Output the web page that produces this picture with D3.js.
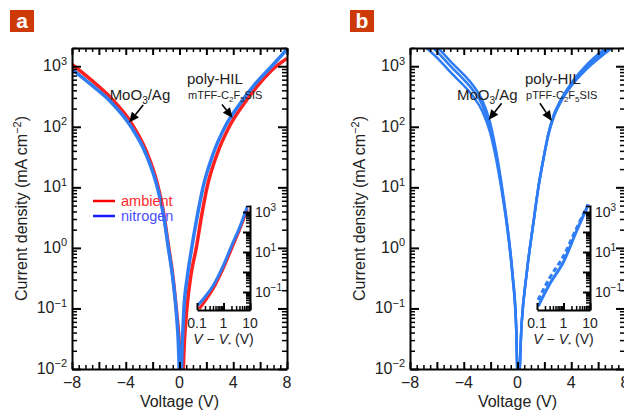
<!DOCTYPE html>
<html>
<head>
<meta charset="utf-8">
<script src="https://cdn.jsdelivr.net/npm/d3@7"></script>
<style>
  body { margin: 0; background: #fff; }
  svg { font-family: "Liberation Sans", Arial, Helvetica, sans-serif; }
</style>
</head>
<body>
<svg id="chart" width="624" height="413"></svg>
<script>
// ---- data ----
// panel a, main J-V curves (V, mA cm^-2)
const voltNitrogenA = [-8, -6.6, -5.1, -3.6, -2.5, -1.65, -1.2, -0.83, -0.5, -0.26, -0.1, 0.07, 0.2, 0.33, 0.6, 0.91, 1.3, 1.75, 2.5, 3.39, 4.5, 5.6, 6.86, 8];
const jNitrogenA = [891, 501, 257, 100, 35.5, 10, 3.55, 1.0, 0.316, 0.1, 0.0316, 0.004, 0.025, 0.1, 0.355, 1.0, 3.16, 10, 35.5, 100, 240, 500, 1000, 1900];
const voltAmbientA = [-8, -6.6, -5.1, -3.6, -2.5, -1.65, -1.2, -0.83, -0.5, -0.26, -0.05, 0.2, 0.35, 0.55, 0.85, 1.25, 1.62, 2.05, 2.8, 3.7, 4.8, 5.9, 7.2, 8];
const jAmbientA = [1070, 600, 300, 117, 41, 11.5, 4.0, 1.12, 0.35, 0.11, 0.035, 0.004, 0.025, 0.1, 0.355, 1.0, 3.16, 10, 35.5, 100, 240, 500, 1000, 1350];

// panel b, three overlapping sweeps
const voltB = [-8, -7, -5.9, -4.9, -4.0, -3.3, -2.6, -2.05, -1.6, -1.18, -0.8, -0.38, -0.11, 0.05, 0.31, 0.68, 1.18, 1.55, 1.95, 2.3, 2.7, 3.2, 4.0, 5.2, 6.5, 8];
const jB1 = [4470, 2820, 1660, 955, 603, 398, 224, 100, 35.5, 10, 2.6, 0.38, 0.058, 0.004, 0.058, 0.38, 2.6, 10, 31.6, 76, 151, 263, 501, 1000, 1780, 3160];
const jB2 = [5370, 3390, 2000, 1150, 725, 480, 270, 120, 41, 11.2, 2.8, 0.41, 0.06, 0.004, 0.058, 0.38, 2.6, 10, 31.6, 78, 158, 275, 525, 1080, 1950, 3550];
const jB3 = [3550, 2240, 1320, 760, 480, 316, 178, 82, 30, 8.9, 2.4, 0.35, 0.055, 0.004, 0.056, 0.37, 2.5, 9.6, 30.5, 73, 144, 250, 470, 920, 1620, 2820];

// insets: J vs V - V* (log-log)
const insetXNitrogenA = [0.11, 0.2, 0.4, 1, 2, 4, 7.8];
const insetJNitrogenA = [0.022, 0.056, 0.2, 2.2, 20, 160, 1780];
const insetXAmbientA = [0.12, 0.2, 0.4, 1, 2, 4, 8];
const insetJAmbientA = [0.014, 0.035, 0.14, 1.6, 14, 126, 1410];
const insetXSolidB = [0.11, 0.3, 1, 3, 8.7];
const insetJSolidB = [0.019, 0.25, 3.2, 100, 2400];
const insetXDashB = [0.11, 0.3, 1, 3, 8.5];
const insetJDashB = [0.04, 0.5, 6.3, 141, 2400];

// ticks
const yTickValues = [0.01, 0.1, 1, 10, 100, 1000];
const yTickExps = ["\u22122", "\u22121", "0", "1", "2", "3"];
const xTickValues = [-8, -4, 0, 4, 8];
const xTickLabels = ["\u22128", "\u22124", "0", "4", "8"];
const insetXTicks = [0.1, 1, 10];
const insetXTickLabels = ["0.1", "1", "10"];
const insetYTicks = [0.1, 10, 1000];
const insetYTickExps = ["\u22121", "1", "3"];

const legendLabels = ["ambient", "nitrogen"];
const legendLineColors = ["#ff0000", "#1a1aff"];
const legendTextColors = ["#ff2a2a", "#4d4dff"];

const red = "#ff2020";
const blue = "#2f7df5";

const svg = d3.select("#chart");

function styleAxis(sel, w) {
    sel.select(".domain").attr("stroke-width", 2);
    sel.selectAll(".tick line").attr("stroke-width", w);
}

function noDomain(sel, w) {
    sel.select(".domain").remove();
    sel.selectAll(".tick line").attr("stroke-width", w);
}

function powerLabel(g, x, y, exp, size, supSize, anchor) {
    const t = g.append("text")
        .attr("x", x)
        .attr("y", y)
        .attr("text-anchor", anchor)
        .style("font-size", size + "px")
        .style("fill", "#222");
    t.append("tspan").text("10");
    t.append("tspan").attr("dy", -size * 0.42).style("font-size", supSize + "px").text(exp);
}

function arrow(g, x1, y1, x2, y2) {
    const a = Math.atan2(y2 - y1, x2 - x1);
    const len = 10, hw = 4.5;
    const bx = x2 - len * Math.cos(a), by = y2 - len * Math.sin(a);
    g.append("line")
        .attr("x1", x1).attr("y1", y1).attr("x2", bx).attr("y2", by)
        .attr("stroke", "#000").attr("stroke-width", 1.6);
    g.append("path")
        .attr("d", `M${x2},${y2}L${bx + hw * Math.sin(a)},${by - hw * Math.cos(a)}L${bx - hw * Math.sin(a)},${by + hw * Math.cos(a)}Z`)
        .attr("fill", "#000");
}

function drawPanel(cfg) {
    const top = 48, bottom = 369, width = 215;
    const x = d3.scaleLinear().domain([-8, 8]).range([cfg.left, cfg.left + width]);
    const y = d3.scaleLog().domain([0.01, 2000]).range([bottom, top]);
    const g = svg.append("g");

    // panel letter
    g.append("rect").attr("x", cfg.badge).attr("y", 10).attr("width", 24).attr("height", 22).attr("fill", "#cc3a0a");
    g.append("text").attr("x", cfg.badge + 12).attr("y", 28).attr("text-anchor", "middle")
        .style("font-size", "21px").style("font-weight", "bold").style("fill", "#fff").text(cfg.letter);

    const clipId = "clip-" + cfg.letter;
    svg.append("clipPath").attr("id", clipId).append("rect")
        .attr("x", cfg.left).attr("y", top).attr("width", width).attr("height", bottom - top);

    const line = d3.line()
        .x(d => x(d[0]))
        .y(d => y(d[1]))
        .curve(d3.curveMonotoneX);

    const curves = g.append("g").attr("clip-path", `url(#${clipId})`);
    cfg.series.forEach(s => {
        curves.append("path")
            .datum(d3.zip(s.v, s.j))
            .attr("d", line)
            .attr("fill", "none")
            .attr("stroke", s.color)
            .attr("stroke-width", s.width)
            .attr("stroke-linejoin", "round");
    });

    // axes, ticks inward on all four sides
    const minorY = y.ticks().filter(v => !yTickValues.includes(v));
    const majorX = d3.range(-8, 8.1, 2);
    const minorX = d3.range(-8, 8.01, 0.5).filter(v => v % 2 !== 0);

    g.append("g").attr("transform", `translate(${cfg.left},0)`)
        .call(d3.axisLeft(y).tickValues(yTickValues).tickSize(-9).tickSizeOuter(0).tickFormat(""))
        .call(styleAxis, 2);
    g.append("g").attr("transform", `translate(${cfg.left},0)`)
        .call(d3.axisLeft(y).tickValues(minorY).tickSize(-5).tickFormat(""))
        .call(noDomain, 1.5);
    g.append("g").attr("transform", `translate(${cfg.left + width},0)`)
        .call(d3.axisRight(y).tickValues(yTickValues).tickSize(-9).tickSizeOuter(0).tickFormat(""))
        .call(styleAxis, 2);
    g.append("g").attr("transform", `translate(${cfg.left + width},0)`)
        .call(d3.axisRight(y).tickValues(minorY).tickSize(-5).tickFormat(""))
        .call(noDomain, 1.5);
    g.append("g").attr("transform", `translate(0,${bottom})`)
        .call(d3.axisBottom(x).tickValues(majorX).tickSize(-7).tickSizeOuter(0).tickFormat(""))
        .call(styleAxis, 2);
    g.append("g").attr("transform", `translate(0,${bottom})`)
        .call(d3.axisBottom(x).tickValues(minorX).tickSize(-4).tickFormat(""))
        .call(noDomain, 1.5);
    g.append("g").attr("transform", `translate(0,${top})`)
        .call(d3.axisTop(x).tickValues(majorX).tickSize(-7).tickSizeOuter(0).tickFormat(""))
        .call(styleAxis, 2);
    g.append("g").attr("transform", `translate(0,${top})`)
        .call(d3.axisTop(x).tickValues(minorX).tickSize(-4).tickFormat(""))
        .call(noDomain, 1.5);

    // tick labels
    yTickValues.forEach((v, i) => powerLabel(g, cfg.left - 5, y(v) + 5, yTickExps[i], 16, 11, "end"));
    xTickValues.forEach((v, i) => {
        g.append("text").attr("x", x(v)).attr("y", 388).attr("text-anchor", "middle")
            .style("font-size", "16px").style("fill", "#222").text(xTickLabels[i]);
    });

    // axis titles
    g.append("text").attr("x", x(0)).attr("y", 407).attr("text-anchor", "middle")
        .style("font-size", "16px").style("fill", "#222").text("Voltage (V)");
    const yt = g.append("text")
        .attr("transform", `translate(${cfg.left - 45},${(top + bottom) / 2}) rotate(-90)`)
        .attr("text-anchor", "middle")
        .style("font-size", "16px").style("fill", "#222");
    yt.append("tspan").text("Current density (mA cm");
    yt.append("tspan").attr("dy", -6).style("font-size", "11px").text("\u22122");
    yt.append("tspan").attr("dy", 6).text(")");

    // annotations
    const an = cfg.notes;
    const m = g.append("text").attr("x", x(an.moo[0])).attr("y", y(an.moo[1]))
        .style("font-size", "15px").style("fill", "#222");
    m.append("tspan").text("MoO");
    m.append("tspan").attr("dy", 4).style("font-size", "10px").text("3");
    m.append("tspan").attr("dy", -4).text("/Ag");
    arrow(g, x(an.mooArrow[0]), y(an.mooArrow[1]), x(an.mooArrow[2]), y(an.mooArrow[3]));

    g.append("text").attr("x", x(an.hil[0])).attr("y", y(an.hil[1]))
        .style("font-size", "15px").style("fill", "#222").text("poly-HIL");
    const h = g.append("text").attr("x", x(an.hil[0]) + 1).attr("y", y(an.hil[1]) + 15)
        .style("font-size", "11px").style("fill", "#222");
    h.append("tspan").text(an.hilName + "-C");
    h.append("tspan").attr("dy", 3).style("font-size", "8px").text("2");
    h.append("tspan").attr("dy", -3).text("F");
    h.append("tspan").attr("dy", 3).style("font-size", "8px").text("5");
    h.append("tspan").attr("dy", -3).text("SIS");
    arrow(g, x(an.hilArrow[0]), y(an.hilArrow[1]), x(an.hilArrow[2]), y(an.hilArrow[3]));

    return { x, y, g };
}

function drawInset(cfg) {
    const left = cfg.left, w = 53, top = 205, bottom = 310;
    const ix = d3.scaleLog().domain([0.1, 10]).range([left, left + w]);
    const iy = d3.scaleLog().domain([0.0126, 2240]).range([bottom, top]);
    const g = svg.append("g");

    const line = d3.line().x(d => ix(d[0])).y(d => iy(d[1])).curve(d3.curveMonotoneX);
    cfg.series.forEach(s => {
        g.append("path")
            .datum(d3.zip(s.x, s.j))
            .attr("d", line)
            .attr("fill", "none")
            .attr("stroke", s.color)
            .attr("stroke-width", 3)
            .attr("stroke-dasharray", s.dash || null);
    });

    const minorIX = ix.ticks().filter(v => !insetXTicks.includes(v));
    const majorIY = [0.1, 1, 10, 100, 1000];
    const minorIY = iy.ticks().filter(v => !majorIY.includes(v));

    g.append("g").attr("transform", `translate(0,${bottom})`)
        .call(d3.axisBottom(ix).tickValues(insetXTicks).tickSize(-7).tickSizeOuter(0).tickFormat(""))
        .call(styleAxis, 2);
    g.append("g").attr("transform", `translate(0,${bottom})`)
        .call(d3.axisBottom(ix).tickValues(minorIX).tickSize(-4).tickFormat(""))
        .call(noDomain, 1.5);
    g.append("g").attr("transform", `translate(${left + w},0)`)
        .call(d3.axisRight(iy).tickValues(majorIY).tickSize(-7).tickSizeOuter(0).tickFormat(""))
        .call(styleAxis, 2);
    g.append("g").attr("transform", `translate(${left + w},0)`)
        .call(d3.axisRight(iy).tickValues(minorIY).tickSize(-4).tickFormat(""))
        .call(noDomain, 1.5);

    insetXTicks.forEach((v, i) => {
        g.append("text").attr("x", ix(v)).attr("y", 328).attr("text-anchor", "middle")
            .style("font-size", "14px").style("fill", "#222").text(insetXTickLabels[i]);
    });
    insetYTicks.forEach((v, i) => powerLabel(g, left + w + 5, iy(v) + 5, insetYTickExps[i], 14, 10, "start"));

    const t = g.append("text").attr("x", left + w / 2).attr("y", 344).attr("text-anchor", "middle")
        .style("font-size", "14px").style("fill", "#222");
    t.append("tspan").style("font-style", "italic").text("V");
    t.append("tspan").text(" \u2212 ");
    t.append("tspan").style("font-style", "italic").text("V");
    t.append("tspan").attr("dy", 3).style("font-size", "8px").text("*");
    t.append("tspan").attr("dy", -3).text(" (V)");
}

// panel a
const pa = drawPanel({
    letter: "a", left: 72, badge: 10,
    series: [
        { v: voltAmbientA, j: jAmbientA, color: red, width: 3.5 },
        { v: voltNitrogenA, j: jNitrogenA, color: blue, width: 3.5 }
    ],
    notes: {
        moo: [-5.2, 280], mooArrow: [-2.7, 230, -3.75, 118],
        hil: [0.56, 500], hilName: "mTFF", hilArrow: [3.16, 234, 3.95, 140]
    }
});

// legend
legendLabels.forEach((name, i) => {
    const ly = 201 + i * 15;
    pa.g.append("line").attr("x1", 93).attr("x2", 115).attr("y1", ly).attr("y2", ly)
        .attr("stroke", legendLineColors[i]).attr("stroke-width", 2.5);
    pa.g.append("text").attr("x", 121).attr("y", ly + 5)
        .style("font-size", "14.5px").style("fill", legendTextColors[i]).text(name);
});

drawInset({
    left: 197,
    series: [
        { x: insetXAmbientA, j: insetJAmbientA, color: red },
        { x: insetXNitrogenA, j: insetJNitrogenA, color: blue }
    ]
});

// panel b
drawPanel({
    letter: "b", left: 410, badge: 350,
    series: [
        { v: voltB, j: jB3, color: blue, width: 2.5 },
        { v: voltB, j: jB1, color: blue, width: 2.5 },
        { v: voltB, j: jB2, color: blue, width: 2.5 }
    ],
    notes: {
        moo: [-4.5, 280], mooArrow: [-1.18, 245, -2.15, 130],
        hil: [0.56, 500], hilName: "pTFF", hilArrow: [1.67, 245, 2.55, 125]
    }
});

drawInset({
    left: 537,
    series: [
        { x: insetXSolidB, j: insetJSolidB, color: blue },
        { x: insetXDashB, j: insetJDashB, color: blue, dash: "5,3" }
    ]
});
</script>
</body>
</html>
